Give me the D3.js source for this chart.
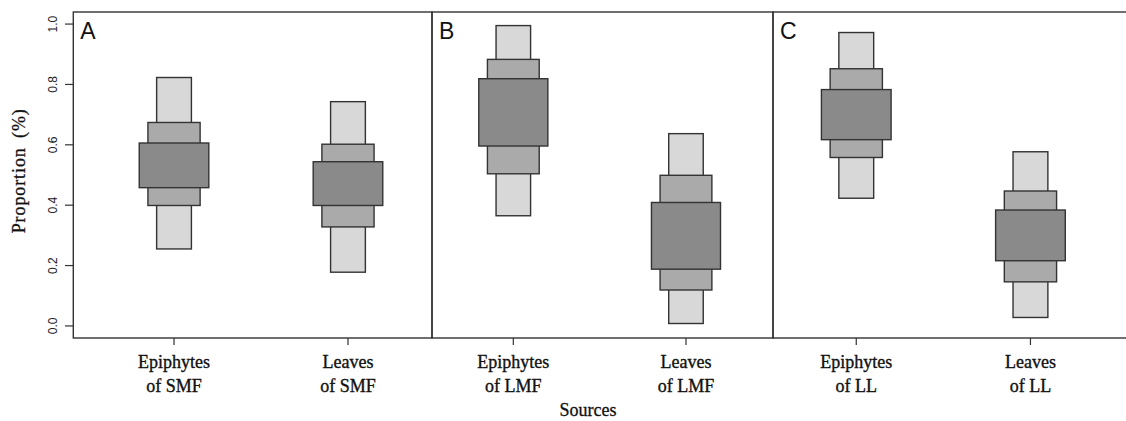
<!DOCTYPE html>
<meta charset="utf-8">
<script src="https://cdn.jsdelivr.net/npm/d3@7"></script>
<style>
  body { margin: 0; background: #fff; }
</style>
<div id="chart"></div>
<script>

    var panels = ["A", "B", "C"];
    var sourceTop = ["Epiphytes", "Leaves", "Epiphytes", "Leaves", "Epiphytes", "Leaves"];
    var sourceBottom = ["of SMF", "of SMF", "of LMF", "of LMF", "of LL", "of LL"];
    var yTicks = [0.0, 0.2, 0.4, 0.6, 0.8, 1.0];

    // credible intervals, outer (light) -> inner (dark)
    var lightLo = [0.255, 0.178, 0.365, 0.008, 0.423, 0.028];
    var lightHi = [0.823, 0.743, 0.995, 0.637, 0.972, 0.577];
    var midLo   = [0.399, 0.328, 0.504, 0.119, 0.558, 0.146];
    var midHi   = [0.674, 0.602, 0.883, 0.499, 0.852, 0.447];
    var darkLo  = [0.458, 0.399, 0.596, 0.188, 0.617, 0.216];
    var darkHi  = [0.606, 0.544, 0.819, 0.409, 0.783, 0.384];

    var width = 1126, height = 421;

    var svg = d3.select("#chart")
      .append("svg")
        .attr("width", width)
        .attr("height", height);

    var y = d3.scaleLinear()
      .domain([-0.04, 1.04])
      .range([338, 12]);

    // each panel gets its own x scale, categories sit at 1 and 2
    var panelX = [
      d3.scaleLinear().domain([0.421, 2.483]).range([73.3, 432]),
      d3.scaleLinear().domain([0.529, 2.504]).range([432, 773]),
      d3.scaleLinear().domain([0.522, 2.560]).range([773, 1128])
    ];

    var layers = [
      {lo: lightLo, hi: lightHi, w: 0.2, fill: "#d8d8d8"},
      {lo: midLo,   hi: midHi,   w: 0.3, fill: "#aaaaaa"},
      {lo: darkLo,  hi: darkHi,  w: 0.4, fill: "#8a8a8a"}
    ];

    var stroke = "#333";
    var serif = "Liberation Serif, Times New Roman, serif";

    panels.forEach(function(p, pi) {
      var x = panelX[pi];
      var g = svg.append("g");

      g.append("rect")
        .attr("x", x.range()[0])
        .attr("y", y(1.04))
        .attr("width", x.range()[1] - x.range()[0])
        .attr("height", y(-0.04) - y(1.04))
        .attr("fill", "none")
        .attr("stroke", stroke)
        .attr("stroke-width", 1.4);

      g.append("text")
        .attr("x", x.range()[0] + 7)
        .attr("y", 39)
        .style("font-family", "Liberation Sans, Arial, sans-serif")
        .style("font-size", "23px")
        .attr("fill", "#111")
        .text(p);

      [0, 1].forEach(function(k) {
        var i = pi * 2 + k;
        var cx = k + 1;
        layers.forEach(function(L) {
          g.append("rect")
            .attr("x", x(cx - L.w / 2))
            .attr("y", y(L.hi[i]))
            .attr("width", x(cx + L.w / 2) - x(cx - L.w / 2))
            .attr("height", y(L.lo[i]) - y(L.hi[i]))
            .attr("fill", L.fill)
            .attr("stroke", stroke)
            .attr("stroke-width", 1.4);
        });

        // bottom tick
        g.append("line")
          .attr("x1", x(cx)).attr("x2", x(cx))
          .attr("y1", y(-0.04)).attr("y2", y(-0.04) + 7)
          .attr("stroke", stroke)
          .attr("stroke-width", 1.2);

        var lbl = g.append("text")
          .attr("text-anchor", "middle")
          .style("font-family", serif)
          .style("font-size", "18px")
          .attr("fill", "#111")
          .attr("stroke", "#111")
          .attr("stroke-width", 0.35);
        lbl.append("tspan").attr("x", x(cx)).attr("y", 368).text(sourceTop[i]);
        lbl.append("tspan").attr("x", x(cx)).attr("y", 392).text(sourceBottom[i]);
      });
    });

    // left axis ticks
    var yAxis = svg.append("g");
    yTicks.forEach(function(t) {
      yAxis.append("line")
        .attr("x1", 65).attr("x2", 73.3)
        .attr("y1", y(t)).attr("y2", y(t))
        .attr("stroke", stroke)
        .attr("stroke-width", 1.2);
      yAxis.append("text")
        .attr("transform", "translate(57," + y(t) + ") rotate(-90)")
        .attr("text-anchor", "middle")
        .style("font-family", "Liberation Sans, Arial, sans-serif")
        .style("font-size", "12px")
        .attr("fill", "#222")
        .text(d3.format(".1f")(t));
    });

    svg.append("text")
      .attr("transform", "translate(25," + y(0.514) + ") rotate(-90)")
      .attr("text-anchor", "middle")
      .style("font-family", serif)
      .style("font-size", "18px")
      .style("letter-spacing", "0.9px")
      .style("word-spacing", "4px")
      .attr("fill", "#111")
      .attr("stroke", "#111")
      .attr("stroke-width", 0.3)
      .text("Proportion (%)");

    svg.append("text")
      .attr("x", 588)
      .attr("y", 416)
      .attr("text-anchor", "middle")
      .style("font-family", serif)
      .style("font-size", "18px")
      .attr("fill", "#111")
      .attr("stroke", "#111")
      .attr("stroke-width", 0.3)
      .text("Sources");

</script>
